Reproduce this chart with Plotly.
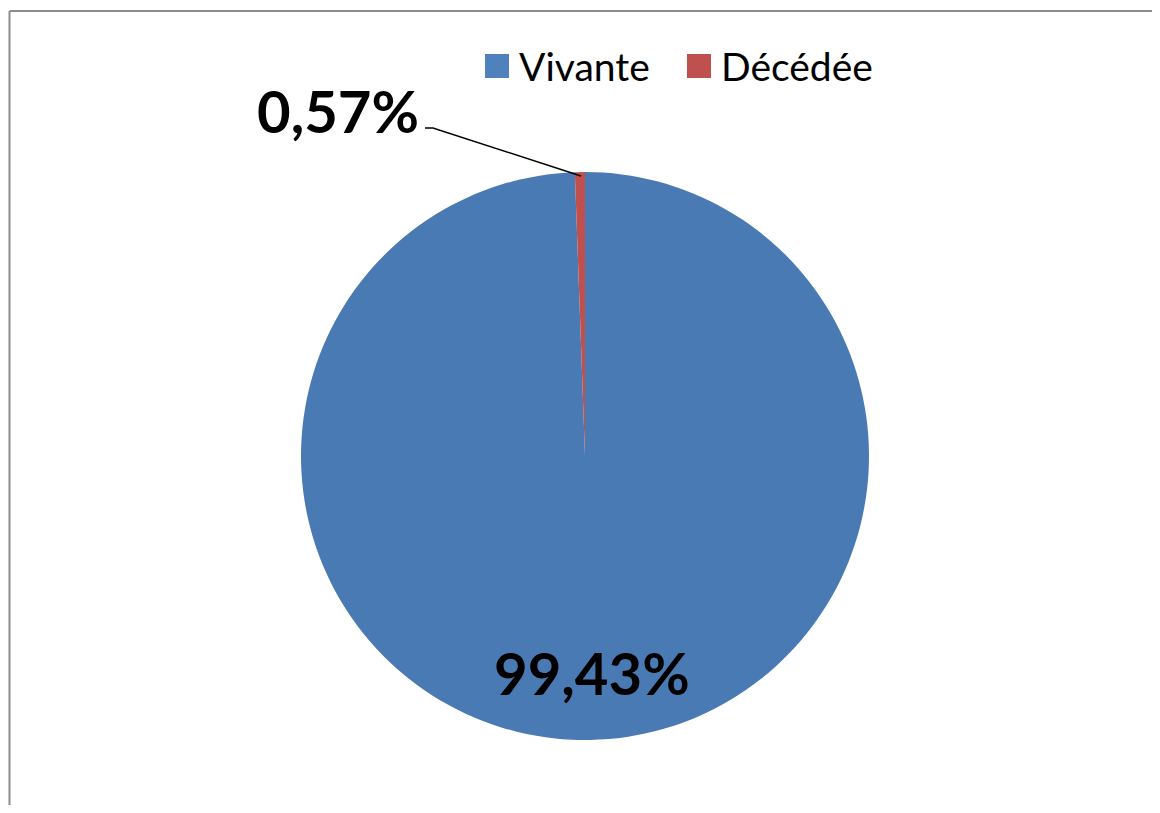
import plotly.graph_objects as go

# data
labels = ["Vivante", "Décédée"]
values = [99.43, 0.57]
colors = ["#4a7ab4", "#c0504d"]
legend_colors = ["#4f81bd", "#c0504d"]

W, H = 1144, 797  # leaves room for the page's 8px body margin, so no scrollbars
OFF = 8


def px(x):
    return (x - OFF) / W


def py(y):
    return 1 - (y - OFF) / H


def fmt(v):
    return f"{v:.2f}".replace(".", ",") + "%"


total = sum(values)
pct = [v / total * 100 for v in values]

fig = go.Figure()

fig.add_trace(go.Pie(
    labels=labels,
    values=values,
    marker=dict(colors=colors, line=dict(width=0)),
    sort=False,
    direction="clockwise",
    rotation=0,
    textinfo="none",
    hoverinfo="label+percent",
    showlegend=False,
    domain=dict(x=[px(585 - 285), px(585 + 285)], y=[py(456 + 284), py(456 - 284)]),
))

# data labels
fig.add_annotation(x=px(592), y=py(672), xref="paper", yref="paper",
                   xanchor="center", yanchor="middle",
                   text=fmt(pct[0]), showarrow=False,
                   font=dict(family="Lato", size=58, color="black", weight="bold"))
fig.add_annotation(x=px(338), y=py(110), xref="paper", yref="paper",
                   xanchor="center", yanchor="middle",
                   text=fmt(pct[1]), showarrow=False,
                   font=dict(family="Lato", size=58, color="black", weight="bold"))

# legend drawn by hand for large square keys
leg_x = [485, 687]
for lab, col, x0 in zip(labels, legend_colors, leg_x):
    fig.add_shape(type="rect", xref="paper", yref="paper",
                  x0=px(x0), x1=px(x0 + 24), y0=py(78), y1=py(54),
                  fillcolor=col, line=dict(width=0))
    fig.add_annotation(x=px(x0 + 32), y=py(66), xref="paper", yref="paper",
                       xanchor="left", yanchor="middle", text=lab, showarrow=False,
                       font=dict(family="Lato", size=39, color="black"))

# leader line
fig.add_shape(type="path", xref="paper", yref="paper",
              path=f"M {px(425)} {py(128)} L {px(433)} {py(128)} L {px(581)} {py(176)}",
              line=dict(color="black", width=1.5))
# chart border (only left and top edges are visible in the crop)
fig.add_shape(type="line", xref="paper", yref="paper",
              x0=px(9.5), x1=px(9.5), y0=0, y1=py(11),
              line=dict(color="#8c8c8c", width=2))
fig.add_shape(type="line", xref="paper", yref="paper",
              x0=px(9.5), x1=1, y0=py(11), y1=py(11),
              line=dict(color="#8c8c8c", width=2))

fig.update_layout(
    width=W, height=H,
    margin=dict(l=0, r=0, t=0, b=0),
    paper_bgcolor="white",
    showlegend=False,
)

fig.write_html("out.html")
